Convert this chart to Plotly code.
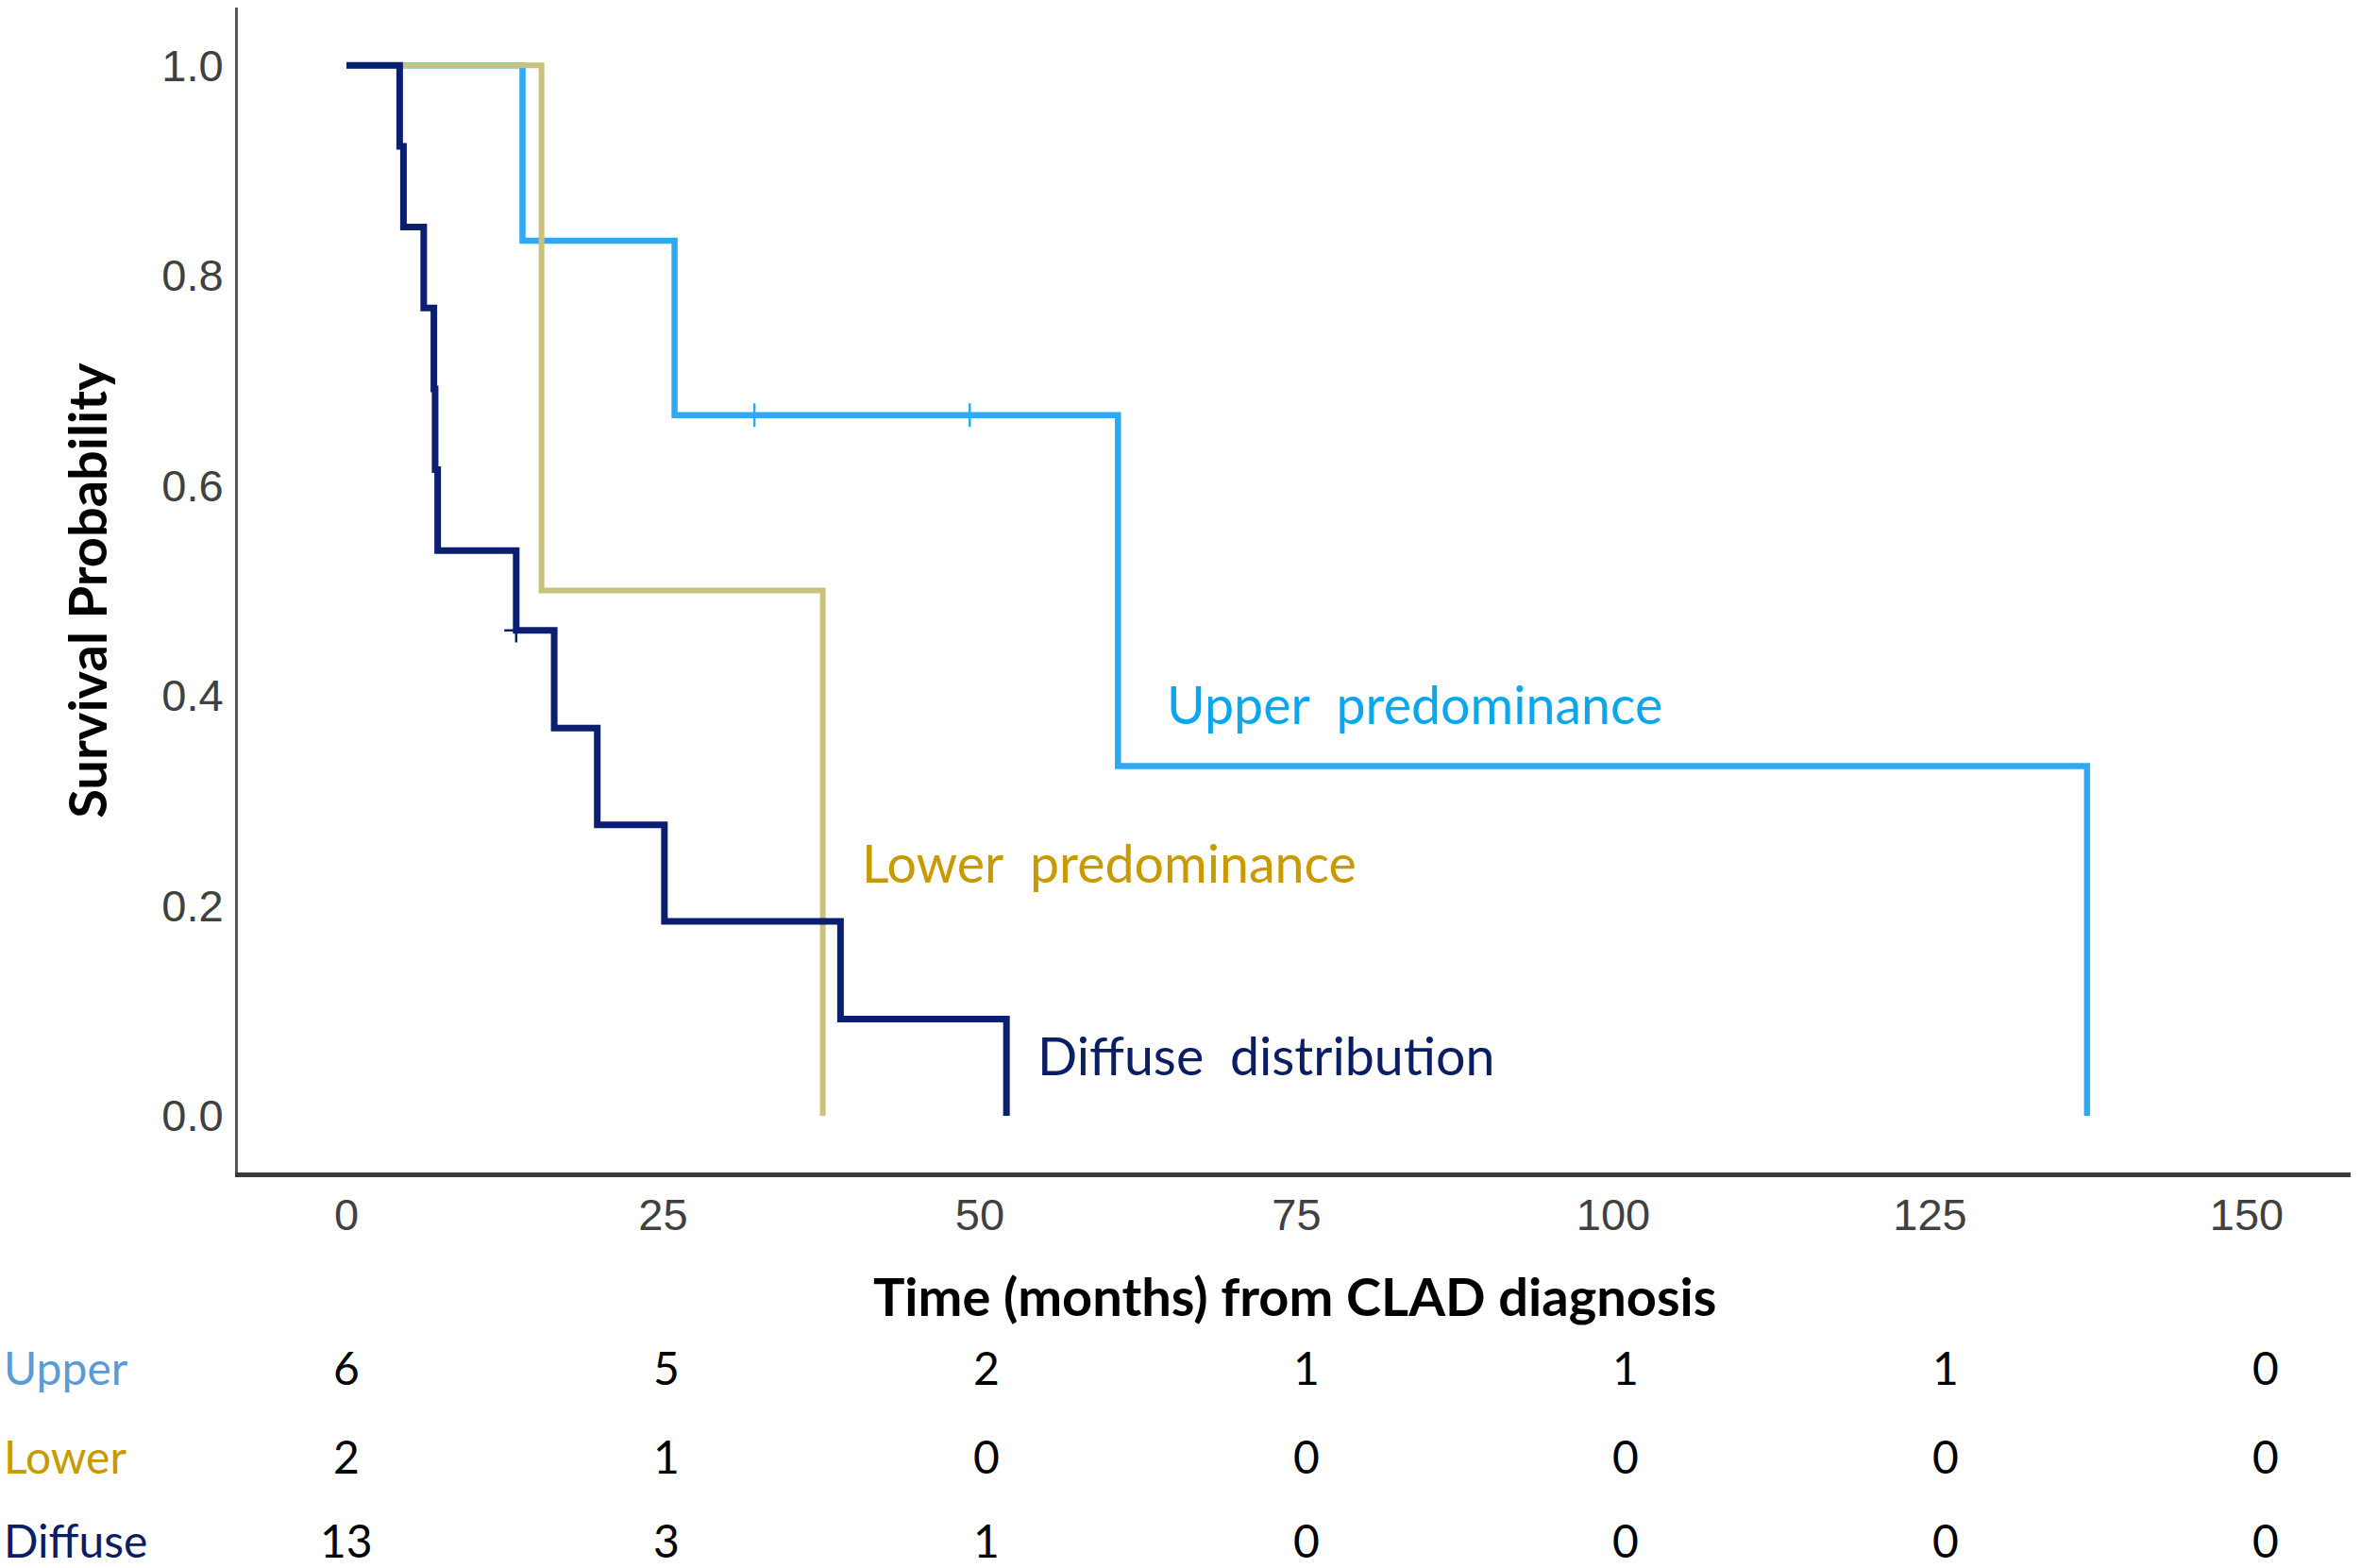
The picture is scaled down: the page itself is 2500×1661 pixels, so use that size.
import plotly.graph_objects as go

# ---- Data ----
upper_t = [0, 13.9, 25.9, 60.9, 137.4]
upper_s = [1.0, 0.833, 0.667, 0.333, 0.0]
upper_cens_t = [32.2, 49.2]
upper_cens_s = [0.667, 0.667]

lower_t = [0, 15.4, 37.6]
lower_s = [1.0, 0.5, 0.0]

diffuse_t = [0, 4.2, 4.5, 6.1, 6.9, 7.0, 7.2, 13.4, 16.4, 19.8, 25.1, 39.0, 52.1]
diffuse_s = [1.0, 0.923, 0.846, 0.769, 0.692, 0.615, 0.538, 0.462, 0.369, 0.277, 0.185, 0.092, 0.0]
diffuse_cens_t = [13.4]
diffuse_cens_s = [0.462]

risk_times = [0, 25, 50, 75, 100, 125, 150]
risk_upper = [6, 5, 2, 1, 1, 1, 0]
risk_lower = [2, 1, 0, 0, 0, 0, 0]
risk_diffuse = [13, 3, 1, 0, 0, 0, 0]

y_ticks = [0.0, 0.2, 0.4, 0.6, 0.8, 1.0]

# ---- Colours ----
c_upper_line = "#30a9f4"
c_upper_txt = "#0aa6ee"
c_lower_line = "#c9c27b"
c_lower_txt = "#c99a00"
c_diff_line = "#0a1f70"
c_diff_txt = "#0b1d63"
c_upper_tab = "#5b9bd5"

fig = go.Figure()

fig.add_trace(go.Scatter(x=upper_t, y=upper_s, mode="lines", line_shape="hv",
                         line=dict(color=c_upper_line, width=6.5), name="Upper"))
fig.add_trace(go.Scatter(x=lower_t, y=lower_s, mode="lines", line_shape="hv",
                         line=dict(color=c_lower_line, width=6), name="Lower"))
fig.add_trace(go.Scatter(x=diffuse_t, y=diffuse_s, mode="lines", line_shape="hv",
                         line=dict(color=c_diff_line, width=7), name="Diffuse"))
fig.add_trace(go.Scatter(x=upper_cens_t, y=upper_cens_s, mode="markers",
                         marker=dict(symbol="cross-thin", size=18,
                                     line=dict(color=c_upper_line, width=2.5)),
                         showlegend=False))
fig.add_trace(go.Scatter(x=diffuse_cens_t, y=diffuse_cens_s, mode="markers",
                         marker=dict(symbol="cross-thin", size=18,
                                     line=dict(color=c_diff_line, width=2.5)),
                         showlegend=False))

tick_font = dict(family="Liberation Sans, Arial, sans-serif", size=47, color="#404040")

fig.update_xaxes(range=[-8.57, 158.2], tickvals=risk_times,
                 ticktext=[str(v) for v in risk_times],
                 showgrid=False, zeroline=False, showline=True,
                 linecolor="#3a3a3a", linewidth=5, ticks="",
                 tickfont=tick_font, ticklabelstandoff=0)
fig.update_yaxes(range=[-0.054, 1.055], tickvals=y_ticks,
                 ticktext=[f"{v:.1f}" for v in y_ticks],
                 showgrid=False, zeroline=False, showline=True,
                 linecolor="#555555", linewidth=3, ticks="",
                 tickfont=tick_font, ticklabelstandoff=3)

lab_font = "Lato, Open Sans, sans-serif"

# Curve labels
fig.add_annotation(x=64.6, y=0.392, text="Upper\u2002predominance", showarrow=False,
                   xanchor="left", yanchor="middle",
                   font=dict(family=lab_font, size=55.5, color=c_upper_txt))
fig.add_annotation(x=40.5, y=0.241, text="Lower\u2002predominance", showarrow=False,
                   xanchor="left", yanchor="middle",
                   font=dict(family=lab_font, size=55.5, color=c_lower_txt))
fig.add_annotation(x=54.4, y=0.0575, text="Diffuse\u2002distribution", showarrow=False,
                   xanchor="left", yanchor="middle",
                   font=dict(family=lab_font, size=55.5, color=c_diff_txt))

# Axis titles
fig.add_annotation(xref="paper", yref="paper", x=-0.072, y=0.5,
                   text="<b>Survival Probability</b>", textangle=-90, showarrow=False,
                   xanchor="center", yanchor="middle",
                   font=dict(family=lab_font, size=56, color="#000000"))
fig.add_annotation(xref="paper", yref="paper", x=0.5, y=-0.106,
                   text="<b>Time (months) from CLAD diagnosis</b>", showarrow=False,
                   xanchor="center", yanchor="middle",
                   font=dict(family=lab_font, size=56, color="#000000"))

# Risk table
rows = [("Upper", risk_upper, c_upper_tab, -0.1677),
        ("Lower", risk_lower, c_lower_txt, -0.2439),
        ("Diffuse", risk_diffuse, c_diff_txt, -0.3160)]
for name, vals, col, yy in rows:
    fig.add_annotation(xref="paper", yref="paper", x=-0.1112, y=yy, text=name,
                       showarrow=False, xanchor="left", yanchor="middle", borderpad=0,
                       font=dict(family=lab_font, size=48, color=col))
    for t, v in zip(risk_times, vals):
        fig.add_annotation(xref="x", yref="paper", x=t * 1.01, y=yy, text=str(v),
                           showarrow=False, xanchor="center", yanchor="middle", borderpad=0,
                           font=dict(family=lab_font, size=48, color="#000000"))

fig.update_layout(width=2500, height=1661, showlegend=False,
                  plot_bgcolor="white", paper_bgcolor="white",
                  margin=dict(l=252, r=10, t=8, b=419, autoexpand=False))

fig.write_html("out.html")
